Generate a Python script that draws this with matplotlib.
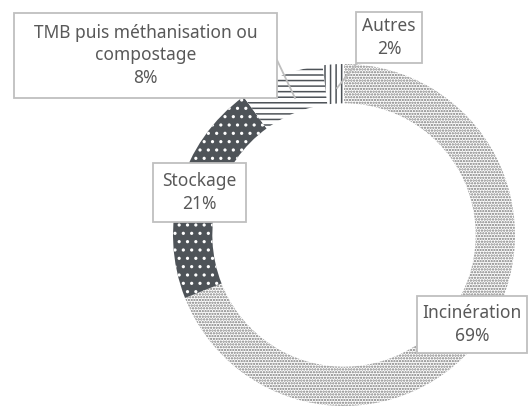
import matplotlib.pyplot as plt
from matplotlib.patches import Rectangle

plt.rcParams['font.family'] = ['Noto Sans', 'DejaVu Sans']
plt.rcParams['hatch.linewidth'] = 1.1

labels = ['Incinération', 'Stockage', 'TMB puis méthanisation ou\ncompostage', 'Autres']
shares = [69, 21, 8, 2]

faces = ['white', '#4e5358', 'white', 'white']
hatch_colors = ['#7a7a7a', 'white', '#4e5358', '#4e5358']
hatches = ['......', '..', '---', '|||']

fig = plt.figure(figsize=(5.29, 4.09), dpi=100)
ax = fig.add_axes([0, 0, 1, 1])

cx, cy, r = 344, 174, 171
wedges, _ = ax.pie(shares, startangle=90, counterclock=False, center=(cx, cy),
                   radius=r, wedgeprops=dict(width=r * 0.23, linewidth=0),
                   frame=True)
ax.set_xlim(0, 529)
ax.set_ylim(0, 409)
ax.set_aspect('equal')
ax.axis('off')
for w, fc, hc, h in zip(wedges, faces, hatch_colors, hatches):
    w.set_facecolor(fc)
    w.set_edgecolor(hc)
    w.set_hatch(h)
    w.set_linewidth(0)

txt = '#595959'
edge = '#bfbfbf'

# label boxes: (left, bottom, width, height)
boxes = [(417, 56, 110, 57), (153, 187, 93, 59), (14, 311, 263, 85), (356, 346, 66, 51)]
leaders = [None, None, ((277, 349), (295, 311)), ((357, 346), (337, 321))]

for i, (lab, v) in enumerate(zip(labels, shares)):
    if leaders[i] is not None:
        (x0, y0), (x1, y1) = leaders[i]
        ax.plot([x0, x1], [y0, y1], color=edge, lw=1.3, zorder=3)
    bx, by, bw, bh = boxes[i]
    ax.add_patch(Rectangle((bx, by), bw, bh, fc='white', ec=edge, lw=1.3, zorder=4))
    ax.text(bx + bw / 2, by + bh / 2, f'{lab}\n{v}%', ha='center', va='center',
            fontsize=12.5, color=txt, linespacing=1.3, zorder=5)

fig.savefig('out.png', dpi=100)
